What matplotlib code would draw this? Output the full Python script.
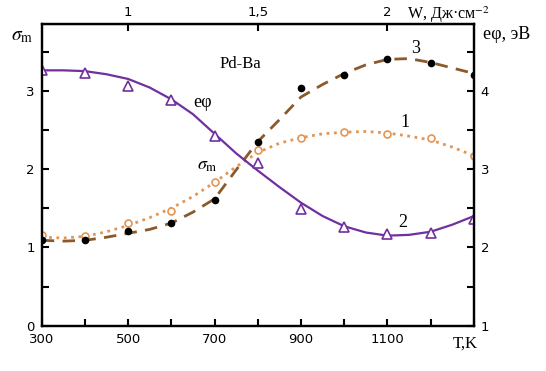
import numpy as np
import matplotlib
matplotlib.use("Agg")
import matplotlib.pyplot as plt

plt.rcParams['mathtext.fontset'] = 'stix'

# measured points
T_pts = [300, 400, 500, 600, 700, 800, 900, 1000, 1100, 1200, 1300]
sigma1_pts = [1.16, 1.14, 1.31, 1.46, 1.83, 2.24, 2.40, 2.47, 2.45, 2.39, 2.17]
sigma3_pts = [1.10, 1.09, 1.21, 1.31, 1.60, 2.34, 3.03, 3.20, 3.40, 3.35, 3.20]
ephi_pts = [4.27, 4.23, 4.06, 3.88, 3.42, 3.08, 2.49, 2.26, 2.17, 2.18, 2.36]

# smoothed curves
T_curve = [300, 350, 400, 450, 500, 550, 600, 650, 700, 750, 800,
           850, 900, 950, 1000, 1050, 1100, 1150, 1200, 1250, 1300]
sigma1_curve = [1.13, 1.12, 1.14, 1.20, 1.28, 1.38, 1.50, 1.65, 1.83, 2.03, 2.21,
                2.33, 2.40, 2.45, 2.47, 2.48, 2.46, 2.42, 2.37, 2.28, 2.17]
sigma3_curve = [1.09, 1.08, 1.09, 1.13, 1.18, 1.23, 1.31, 1.45, 1.62, 1.99, 2.35,
                2.63, 2.92, 3.08, 3.22, 3.33, 3.40, 3.41, 3.36, 3.29, 3.22]
ephi_curve = [4.26, 4.26, 4.25, 4.21, 4.15, 4.04, 3.89, 3.70, 3.45, 3.20, 2.98,
              2.77, 2.57, 2.40, 2.27, 2.19, 2.15, 2.16, 2.20, 2.29, 2.40]

x_ticks = [300, 400, 500, 600, 700, 800, 900, 1000, 1100, 1200, 1300]
x_labels = ['300', '', '500', '', '700', '', '900', '', '1100', '', '']
w_ticks = [1, 1.5, 2]
w_labels = ['1', '1,5', '2']

purple = '#7030A0'
brown = '#8B5A2B'
orange = '#E39553'

fig = plt.figure(figsize=(5.46, 3.71), dpi=100)
ax = fig.add_axes([0.0764, 0.122, 0.7916, 0.813])
ax2 = ax.twinx()

ax.plot(T_curve, sigma1_curve, ':', color=orange, lw=2.0)
ax.plot(T_pts, sigma1_pts, 'o', mfc='white', mec=orange, ms=5, mew=1.2)
ax.plot(T_curve, sigma3_curve, '--', color=brown, lw=2.0, dashes=(4.5, 3))
ax.plot(T_pts, sigma3_pts, 'o', color='black', ms=4.5)
ax2.plot(T_curve, ephi_curve, '-', color=purple, lw=1.6)
ax2.plot(T_pts, ephi_pts, '^', mfc='white', mec=purple, ms=6.5, mew=1.2)

ax.set_xlim(300, 1300)
ax.set_ylim(0, 3.85)
ax2.set_ylim(1, 4.85)

ax.set_xticks(x_ticks)
ax.set_xticklabels(x_labels)
ax.set_yticks([0, 0.5, 1, 1.5, 2, 2.5, 3, 3.5])
ax.set_yticklabels(['0', '', '1', '', '2', '', '3', ''])
ax2.set_yticks([1, 1.5, 2, 2.5, 3, 3.5, 4, 4.5])
ax2.set_yticklabels(['1', '', '2', '', '3', '', '4', ''])

for a in (ax, ax2):
    for s in a.spines.values():
        s.set_linewidth(1.6)
ax.tick_params(direction='in', length=5, width=1.5, labelsize=9.5, pad=5)
ax2.tick_params(direction='in', length=5, width=1.5, labelsize=9.5, pad=5)

def t2w(t):
    return (np.asarray(t) + 100) / 600.0

def w2t(w):
    return np.asarray(w) * 600.0 - 100

top = ax.secondary_xaxis('top', functions=(t2w, w2t))
top.set_xticks(w_ticks)
top.set_xticklabels(w_labels)
top.tick_params(direction='in', length=5, width=1.5, labelsize=9.5, pad=4)

serif = 'Liberation Serif'
ax.text(759, 3.34, 'Pd-Ba', family=serif, fontsize=12, ha='center', va='center')
ax.text(1166, 3.54, '3', family=serif, fontsize=13, ha='center', va='center')
ax.text(1140, 2.60, '1', family=serif, fontsize=13, ha='center', va='center')
ax.text(1135, 1.32, '2', family=serif, fontsize=13, ha='center', va='center')
ax.text(672, 2.85, 'eφ', family=serif, fontsize=13, ha='center', va='center')
ax.text(684, 2.05, r'$\sigma_{\rm m}$', fontsize=13, ha='center', va='center')

fig.text(0.040, 0.905, r'$\sigma_{\rm m}$', fontsize=14, ha='center', va='center')
fig.text(0.928, 0.908, 'eφ, эВ', family=serif, fontsize=13, ha='center', va='center')
fig.text(0.822, 0.960, 'W, Дж·см$^{-2}$', family=serif, fontsize=11.5, ha='center', va='center')
fig.text(0.852, 0.075, 'T,K', family=serif, fontsize=12, ha='center', va='center')

fig.savefig('out.png', dpi=100)
